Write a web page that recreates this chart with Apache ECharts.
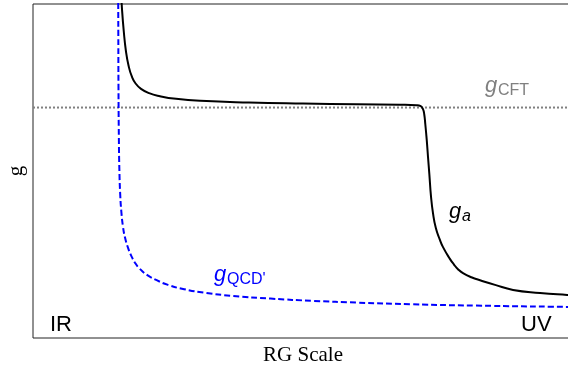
<!DOCTYPE html>
<html><head><meta charset="utf-8">
<script src="https://cdn.jsdelivr.net/npm/echarts@6/dist/echarts.min.js"></script>
<style>html,body{margin:0;padding:0;background:#fff}#c{width:568px;height:365px}</style>
</head><body><div id="c"></div>
<script>
// RG flow (arbitrary units: x 0..100 RG scale, y 0..100 coupling)
const gaX = [16.3,16.5,16.8,17.2,17.7,18.3,19.0,20.0,21.5,23.5,26.5,31,40,50,60,68,71.0,71.8,72.2,72.45,72.65,72.85,73.0,73.15,73.4,73.7,74.07,74.6,75.3,75.93,77.2,77.96,78.7,79.63,81.3,82.78,85.56,88.9,93.9,98.9,101];
const gaY = [104,98,92,86,81.5,78.3,76.2,74.6,73.3,72.4,71.6,71.0,70.5,70.2,70.0,69.85,69.7,69.4,68.6,67,64,60.5,57.5,54.2,49,42.5,37.4,32.9,29.6,27.2,23.7,22.0,20.6,19.4,18.1,17.3,15.9,14.4,13.5,12.9,12.7];
const qcdX = [15.78,15.80,15.83,15.9,16.0,16.15,16.35,16.65,17.05,17.6,18.2,18.9,19.8,21.1,22.9,25.0,28,32,37,44,52,60,70,82,99,101];
const qcdY = [103,90,75,60,50,43,38,33.5,30,27,24.6,22.5,20.7,18.9,17.3,15.9,14.6,13.5,12.6,11.8,11.1,10.6,10.1,9.7,9.3,9.25];
const gCFT = 69.0;
const xRange = [0, 100];
const yRange = [0, 100];

const zip = (a,b)=>a.map((v,i)=>[v,b[i]]);
const chart = echarts.init(document.getElementById('c'), null, {renderer:'canvas'});
const sans = '"Liberation Sans", Arial, sans-serif';
const serif = '"Liberation Serif", "Times New Roman", serif';
chart.setOption({
  animation:false,
  grid:{left:33, right:-5, top:4, bottom:27, show:true, borderColor:'#222', borderWidth:1, containLabel:false, outerBoundsMode:'none'},
  xAxis:{type:'value', min:xRange[0], max:xRange[1], axisLine:{show:false}, axisTick:{show:false}, axisLabel:{show:false}, splitLine:{show:false},
    name:'RG Scale', nameLocation:'middle', nameGap:7, nameTextStyle:{fontFamily:serif, fontSize:21, color:'#000'}},
  yAxis:{type:'value', min:yRange[0], max:yRange[1], axisLine:{show:false}, axisTick:{show:false}, axisLabel:{show:false}, splitLine:{show:false},
    name:'g', nameLocation:'middle', nameGap:6, nameRotate:90, nameTextStyle:{fontFamily:serif, fontSize:21, color:'#000'}},
  series:[
    {type:'line', data:[[xRange[0],gCFT],[xRange[1],gCFT]], showSymbol:false, lineStyle:{color:'#808080', width:2, type:[2,2]}, z:1},
    {type:'line', data:zip(qcdX,qcdY), showSymbol:false, smooth:0.5, lineStyle:{color:'#0000ff', width:2, type:[6,3]}, z:2},
    {type:'line', data:zip(gaX,gaY), showSymbol:false, smooth:0.5, lineStyle:{color:'#000', width:2}, z:3}
  ],
  graphic:[
    {type:'text', left:485, top:75, style:{text:'g', font:'italic 22px '+sans, fill:'#808080'}},
    {type:'text', left:498, top:83, style:{text:'CFT', font:'16px '+sans, fill:'#808080'}},
    {type:'text', left:449, top:201, style:{text:'g', font:'italic 22px '+sans, fill:'#000'}},
    {type:'text', left:462, top:209, style:{text:'a', font:'italic 16px '+sans, fill:'#000'}},
    {type:'text', left:214, top:264, style:{text:'g', font:'italic 22px '+sans, fill:'#0000ff'}},
    {type:'text', left:227, top:272, style:{text:"QCD'", font:'16px '+sans, fill:'#0000ff'}},
    {type:'text', left:50, top:314, style:{text:'IR', font:'22px '+sans, fill:'#000'}},
    {type:'text', left:521, top:314, style:{text:'UV', font:'22px '+sans, fill:'#000'}}
  ]
});
</script></body></html>
